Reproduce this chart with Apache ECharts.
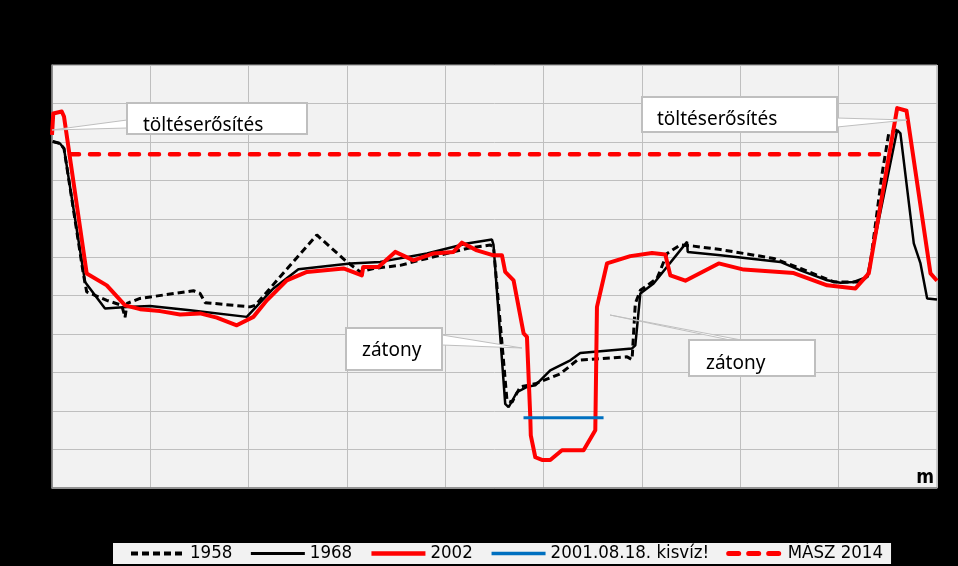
<!DOCTYPE html>
<html>
<head>
<meta charset="utf-8">
<script src="https://cdn.jsdelivr.net/npm/echarts@6/dist/echarts.min.js"></script>
<style>
    html, body { margin: 0; padding: 0; background: #000; }
    #keresztszelveny { width: 958px; height: 566px; }
</style>
</head>
<body>
<div id="keresztszelveny"></div>
<script>
// szelvény pontjai: [távolság m, magasság]
var sor1958 = [
    [0.7, 93.01], [8.1, 92.96], [12.2, 92.83], [31.8, 89.58], [35.3, 89.10], [55.7, 88.88],
    [70.9, 88.75], [74.3, 88.44], [76.3, 88.80], [89.5, 88.93], [143.8, 89.13], [150.6, 89.06],
    [155.7, 88.82], [201.5, 88.71], [206.6, 88.75], [269.3, 90.58], [299.9, 89.88], [313.4, 89.62],
    [326.9, 89.71], [354.1, 89.79], [381.3, 89.97], [422.0, 90.23], [445.7, 90.32], [449.0, 90.27],
    [462.7, 86.28], [467.8, 86.23], [476.2, 86.63], [491.5, 86.71], [499.9, 86.80], [516.9, 86.97],
    [533.9, 87.32], [584.8, 87.41], [589.9, 87.34], [593.2, 88.80], [598.3, 89.14], [615.3, 89.45],
    [625.5, 90.10], [639.0, 90.32], [652.5, 90.29], [679.7, 90.20], [733.9, 89.97], [761.1, 89.71],
    [795.0, 89.36], [822.2, 89.36], [830.6, 89.53], [844.2, 92.18], [850.9, 93.22], [859.5, 93.31]
];
var sor1968 = [
    [0.7, 93.01], [8.1, 92.96], [12.2, 92.83], [33.6, 89.36], [53.9, 88.67], [76.0, 88.71],
    [99.7, 88.73], [140.4, 88.62], [198.1, 88.45], [225.2, 89.19], [250.6, 89.69], [303.2, 89.84],
    [333.7, 89.88], [381.3, 90.10], [422.0, 90.36], [447.4, 90.46], [449.0, 90.32], [460.9, 86.19],
    [464.3, 86.10], [472.8, 86.49], [483.0, 86.63], [491.5, 86.67], [506.7, 87.06], [516.9, 87.19],
    [527.1, 87.32], [537.2, 87.51], [589.9, 87.63], [593.2, 87.71], [598.3, 89.06], [611.8, 89.32],
    [645.8, 90.40], [646.5, 90.14], [679.7, 90.05], [740.7, 89.88], [761.1, 89.66], [788.3, 89.40],
    [801.8, 89.34], [815.3, 89.36], [828.9, 89.49], [859.5, 93.31], [862.8, 93.22], [876.4, 90.36],
    [883.2, 89.84], [890.0, 88.93], [900.0, 88.90]
];
var sor2002 = [
    [0, 93.18], [1.3, 93.74], [3.1, 93.78], [9.9, 93.79], [12.2, 93.66], [35.3, 89.58],
    [55.7, 89.27], [74.3, 88.75], [89.5, 88.65], [109.9, 88.60], [130.2, 88.51], [150.6, 88.54],
    [167.6, 88.43], [187.9, 88.23], [204.8, 88.45], [218.5, 88.88], [238.8, 89.40], [259.2, 89.62],
    [296.4, 89.71], [315.1, 89.53], [316.5, 89.75], [332.0, 89.75], [349.0, 90.14], [367.6, 89.92],
    [388.0, 90.10], [408.3, 90.14], [416.9, 90.38], [432.1, 90.18], [449.0, 90.05], [457.6, 90.05],
    [460.9, 89.62], [469.4, 89.40], [479.6, 88.02], [483.0, 87.93], [486.4, 85.84], [486.9, 85.37],
    [491.5, 84.80], [498.3, 84.73], [506.7, 84.73], [518.6, 84.98], [530.4, 84.98], [540.6, 84.98],
    [552.5, 85.50], [554.2, 88.71], [564.4, 89.84], [588.1, 90.03], [610.2, 90.11], [623.7, 90.07],
    [628.8, 89.53], [644.1, 89.39], [678.0, 89.84], [703.4, 89.68], [754.3, 89.59], [788.3, 89.27],
    [817.1, 89.19], [830.6, 89.58], [859.5, 93.88], [869.0, 93.81], [893.4, 89.58], [900.0, 89.39]
];
var kisviz2001 = [[479.5, 85.83], [560.9, 85.83]];
var masz2014 = [[18.3, 92.68], [844.5, 92.68]];

var sorozatNevek = ['1958', '1968', '2002', '2001.08.18. kisvíz!', 'MÁSZ 2014'];

// feliratok (doboz + mutató ék, pixelben)
var feliratok = [
    { szoveg: 'töltéserősítés', doboz: [127, 103, 180, 31], tx: 143, ty: 126, ek: [[127, 120], [127, 128], [52, 130]] },
    { szoveg: 'töltéserősítés', doboz: [642, 97, 195, 35], tx: 657, ty: 120, ek: [[837, 118], [837, 127], [907, 120]] },
    { szoveg: 'zátony', doboz: [346, 328, 96, 42], tx: 362, ty: 351, ek: [[442, 335], [442, 345], [522, 348]] },
    { szoveg: 'zátony', doboz: [689, 340, 126, 36], tx: 706, ty: 364, ek: [[730, 340], [741, 340], [610, 315]] }
];

(function(){
    var myChart = echarts.init(document.getElementById('keresztszelveny'));

    var grafika = [];
    feliratok.forEach(function (f) {
        grafika.push({
            type: 'polygon',
            z: 100,
            shape: { points: f.ek },
            style: { fill: '#fff', stroke: '#bfbfbf', lineWidth: 1 }
        });
        grafika.push({
            type: 'rect',
            z: 101,
            shape: { x: f.doboz[0], y: f.doboz[1], width: f.doboz[2], height: f.doboz[3] },
            style: { fill: '#fff', stroke: '#bfbfbf', lineWidth: 2 }
        });
        grafika.push({
            type: 'text',
            z: 102,
            x: f.tx,
            y: f.ty,
            style: {
                text: f.szoveg,
                fill: '#000',
                font: '19px "Noto Sans", sans-serif',
                verticalAlign: 'middle'
            }
        });
    });

    // jelmagyarázat vonalai vastagabbak, mint a grafikonon
    var jelVonal = [
        { width: 4, type: [7, 4] },
        { width: 3 },
        { width: 4.5 },
        { width: 3.5 },
        { width: 5, type: [10, 10], cap: 'round' }
    ];

    var option = {
        backgroundColor: '#000',
        animation: false,
        grid: {
            left: 52,
            right: 21,
            top: 65,
            bottom: 78,
            show: true,
            backgroundColor: '#f2f2f2',
            borderColor: '#a6a6a6',
            borderWidth: 1
        },
        legend: {
            data: sorozatNevek.map(function (nev, i) {
                return { name: nev, lineStyle: jelVonal[i] };
            }),
            left: 113,
            top: 543,
            padding: [1, 8, 1, 16],
            itemGap: 17,
            itemWidth: 54,
            itemHeight: 14,
            backgroundColor: '#f2f2f2',
            // csak a vonal látszódjon, a kör jel ne
            itemStyle: { opacity: 0 },
            textStyle: {
                color: '#000',
                fontSize: 18.5,
                fontFamily: '"Liberation Sans Narrow", "DejaVu Sans Condensed", sans-serif'
            }
        },
        xAxis: {
            type: 'value',
            min: 0,
            max: 900,
            interval: 100,
            name: 'm',
            nameLocation: 'end',
            nameGap: -3,
            nameTextStyle: {
                color: '#000',
                fontSize: 19,
                fontWeight: 'bold',
                fontFamily: '"Liberation Sans Narrow", "DejaVu Sans Condensed", sans-serif',
                align: 'right',
                verticalAlign: 'bottom',
                padding: [0, 0, 0, 0]
            },
            axisLine: { lineStyle: { color: '#808080', width: 1.5 } },
            axisTick: { show: false },
            axisLabel: { show: false },
            splitLine: { lineStyle: { color: '#bfbfbf', width: 1 } }
        },
        yAxis: {
            type: 'value',
            min: 84,
            max: 95,
            interval: 1,
            axisLine: { show: true, lineStyle: { color: '#808080', width: 1.5 } },
            axisTick: { show: false },
            axisLabel: { show: false },
            splitLine: { lineStyle: { color: '#bfbfbf', width: 1 } }
        },
        series: [
            {
                name: '1958',
                type: 'line',
                data: sor1958,
                symbol: 'none',
                lineStyle: { color: '#000', width: 3, type: [7, 4] },
                itemStyle: { color: '#000' }
            },
            {
                name: '1968',
                type: 'line',
                data: sor1968,
                symbol: 'none',
                lineStyle: { color: '#000', width: 2.5 },
                itemStyle: { color: '#000' }
            },
            {
                name: '2002',
                type: 'line',
                data: sor2002,
                symbol: 'none',
                lineStyle: { color: '#ff0000', width: 4, join: 'round' },
                itemStyle: { color: '#ff0000' }
            },
            {
                name: '2001.08.18. kisvíz!',
                type: 'line',
                data: kisviz2001,
                symbol: 'none',
                lineStyle: { color: '#0070c0', width: 3 },
                itemStyle: { color: '#0070c0' }
            },
            {
                name: 'MÁSZ 2014',
                type: 'line',
                data: masz2014,
                symbol: 'none',
                lineStyle: { color: '#ff0000', width: 4.5, type: [9, 11], cap: 'round' },
                itemStyle: { color: '#ff0000' }
            }
        ],
        graphic: grafika
    };
    myChart.setOption(option);
})();
</script>
</body>
</html>
